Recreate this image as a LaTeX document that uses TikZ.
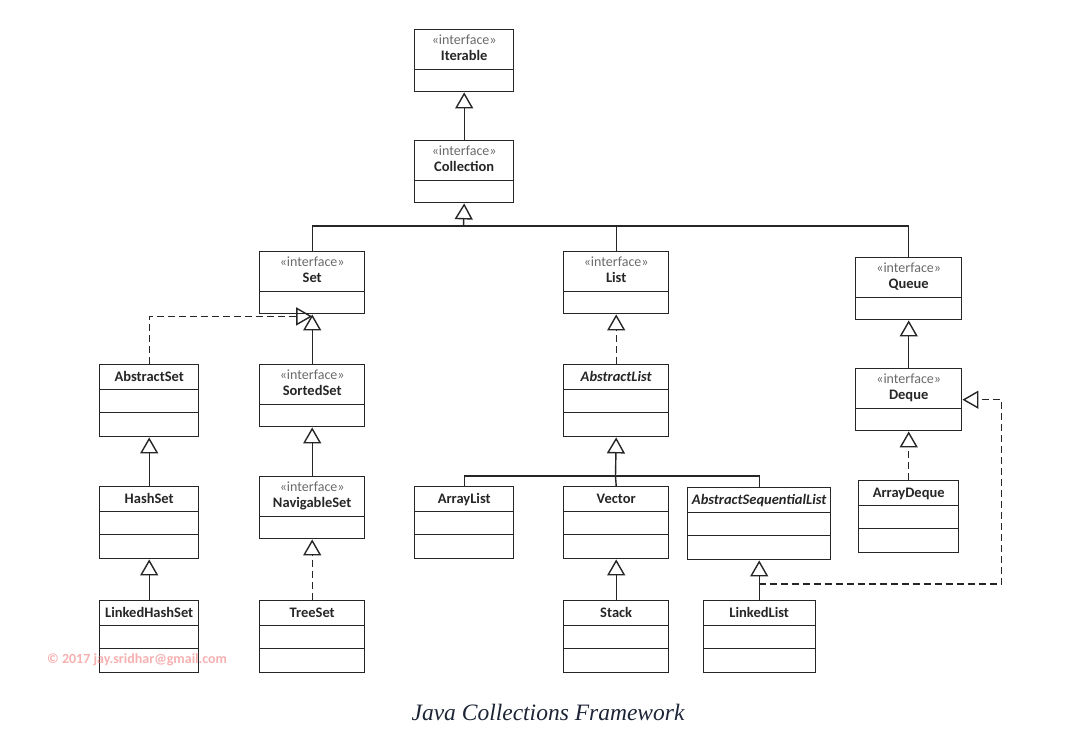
\documentclass[tikz,border=0pt]{standalone}
\usepackage{fontspec}
\setmainfont{Liberation Serif}
\newfontfamily\umlfont{Carlito}
\usetikzlibrary{arrows.meta,positioning}

\definecolor{umlline}{HTML}{262626}
\definecolor{umltext}{HTML}{262626}
\definecolor{stereogray}{HTML}{6A6A6A}
\definecolor{markpink}{HTML}{F07C7C}
\definecolor{captionblue}{HTML}{1C2436}

\tikzset{
  cname/.style={font=\umlfont\bfseries\fontsize{14.5}{16}\selectfont, text=umltext, inner sep=0pt},
  stereo/.style={font=\umlfont\fontsize{14}{16}\selectfont, text=stereogray, inner sep=0pt},
  umlbox/.style={draw=umlline, line width=1.4pt, inner sep=0pt, anchor=north west, minimum width=105pt},
  iface/.style={umlbox, minimum height=62pt,
    label={[stereo, anchor=base, label distance=-15pt]north:«interface»},
    label={[cname, anchor=base, label distance=-31pt]north:#1},
    path picture={\draw[umlline, line width=1.4pt]
      ([yshift=-40pt]path picture bounding box.north west) -- ([yshift=-40pt]path picture bounding box.north east);}},
  cls/.style={umlbox, minimum height=72pt,
    label={[cname, anchor=base, label distance=-17pt]north:#1},
    path picture={\draw[umlline, line width=1.4pt]
      ([yshift=-24.5pt]path picture bounding box.north west) -- ([yshift=-24.5pt]path picture bounding box.north east)
      ([yshift=-48pt]path picture bounding box.north west) -- ([yshift=-48pt]path picture bounding box.north east);}},
  link/.style={draw=umlline, line width=1.4pt},
  gen/.style={link, -{Triangle[open, length=16pt, width=18pt]}},
  real/.style={gen, dash pattern=on 7pt off 4pt},
}

\begin{document}
\begin{tikzpicture}[x=1pt, y=-1pt]
  \useasboundingbox (0,0) rectangle (1073,734);

  % interfaces
  \node[iface=Iterable, minimum width=99pt] (iter) at (414,29) {};
  \node[iface=Collection, minimum width=99pt] (coll) at (414,140) {};
  \node[iface=Set] (set) at (259,251) {};
  \node[iface=List] (list) at (563,251) {};
  \node[iface=Queue, minimum width=106pt] (queue) at (855,257) {};
  \node[iface=SortedSet] (sset) at (259,364) {};
  \node[iface=NavigableSet] (nset) at (259,476) {};
  \node[iface=Deque, minimum width=106pt] (deque) at (855,368) {};

  % classes
  \node[cls=AbstractSet, minimum width=99pt] (aset) at (99,364) {};
  \node[cls=HashSet, minimum width=99pt] (hset) at (99,486) {};
  \node[cls=LinkedHashSet, minimum width=99pt] (lhset) at (99,600) {};
  \node[cls=TreeSet] (tset) at (259,600) {};
  \node[cls={\itshape AbstractList}] (alist) at (563,364) {};
  \node[cls=ArrayList, minimum width=99pt] (arrl) at (414,486) {};
  \node[cls=Vector] (vect) at (563,486) {};
  \node[cls={\itshape AbstractSequentialList}, minimum width=143pt] (asl) at (687,487) {};
  \node[cls=Stack] (stack) at (563,600) {};
  \node[cls=LinkedList, minimum width=112pt] (llist) at (702.5,600) {};
  \node[cls=ArrayDeque, minimum width=100pt] (adq) at (858,480) {};

  \coordinate (collbus) at (463.5,226);
  \coordinate (alistbus) at (615.5,476);
  \coordinate (lljoin) at (758.5,584);

  % connectors
  \draw[gen] (coll.north) -- (iter.south);
  \draw[link] (set.north) |- (collbus) -| (queue.north);
  \draw[link] (list.north) -- (list.north |- collbus);
  \draw[gen] (collbus) -- (coll.south);
  \draw[gen] (sset.north) -- (set.south);
  \draw[real] (aset.north) |- ([yshift=-2pt]set.south);
  \draw[gen] (nset.north) -- (sset.south);
  \draw[real] (tset.north) -- (nset.south);
  \draw[gen] (hset.north) -- (aset.south);
  \draw[gen] (lhset.north) -- (hset.south);
  \draw[real] (alist.north) -- (list.south);
  \draw[link] (arrl.north) |- (alistbus) -| (asl.north);
  \draw[link] (vect.north) -- (alistbus);
  \draw[gen] (alistbus) -- (alist.south);
  \draw[gen] (stack.north) -- (vect.south);
  \draw[gen] (llist.north) -- (asl.south);
  \draw[real] (lljoin) -| ([xshift=39pt]deque.east) -- (deque.east);
  \draw[gen] (deque.north) -- (queue.south);
  \draw[real] (adq.north) -- (deque.south);

  \node[font=\umlfont\bfseries\fontsize{14}{14}\selectfont, text=markpink, opacity=.6, anchor=west, inner sep=0pt] (mark) at (47,660) {© 2017 jay.sridhar@gmail.com};
  \node[font=\itshape\fontsize{23.5}{26}\selectfont, text=captionblue] (caption) at (548,712) {Java Collections Framework};
\end{tikzpicture}
\end{document}
